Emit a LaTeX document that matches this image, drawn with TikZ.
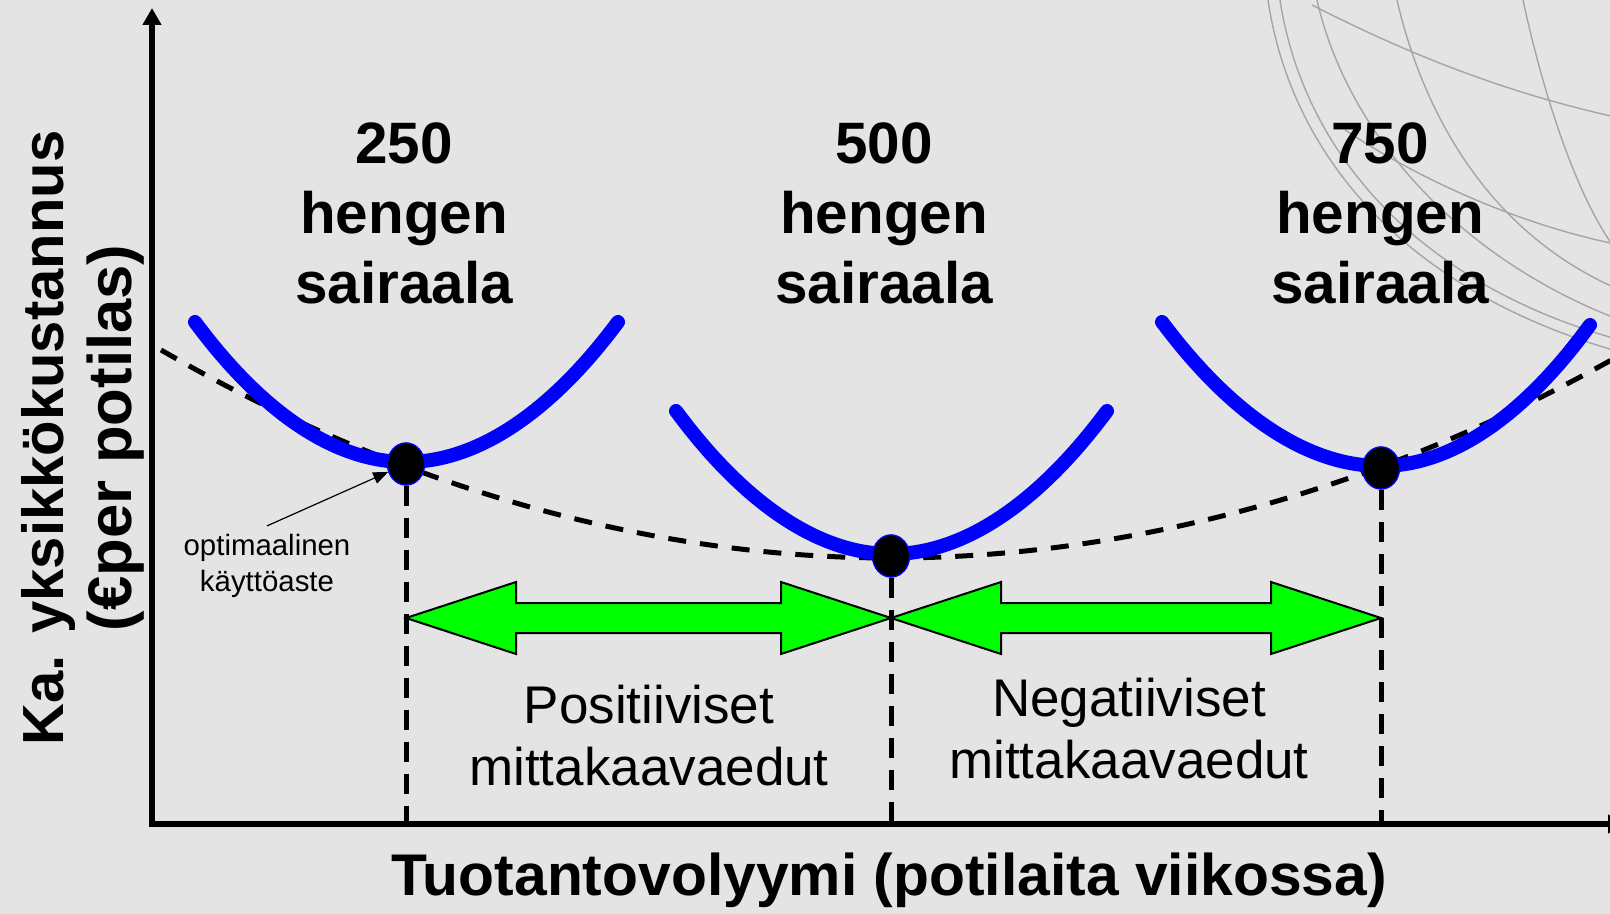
\documentclass[tikz,border=0pt]{standalone}
\usepackage{fontspec}
\setmainfont{Liberation Sans}
\usetikzlibrary{arrows.meta,calc,shapes.geometric}

\definecolor{bgray}{RGB}{228,228,228}
\definecolor{curveblue}{RGB}{0,0,255}
\definecolor{arrowgreen}{RGB}{0,255,0}
\definecolor{globegray}{RGB}{165,165,165}

\tikzset{
  axis/.style={line width=3pt},
  costcurve/.style={curveblue,line width=7pt,line cap=round},
  envelope/.style={line width=2.5pt,dash pattern=on 9pt off 7pt},
  guide/.style={line width=2.5pt,dash pattern=on 10pt off 6pt},
  optdot/.style={ellipse,fill=black,draw=curveblue,line width=0.6pt,
    minimum width=18.5pt,minimum height=21pt,inner sep=0pt},
  title/.style={font=\bfseries\fontsize{29.2}{35}\selectfont,align=center,inner sep=0pt},
  effect/.style={font=\fontsize{26.5}{31}\selectfont,align=center,inner sep=0pt},
  greenbar/.style={draw=black,fill=arrowgreen,line width=1pt,line join=miter},
  globe/.style={globegray,line width=0.7pt}
}

% double headed block arrow between two named points
\newcommand\greenarrow[2]{
  \draw[greenbar] (#1) -- ($(#1)+(110,-36)$) -- ($(#1)+(110,-15)$)
    -- ($(#2)+(-110,-15)$) -- ($(#2)+(-110,-36)$) -- (#2)
    -- ($(#2)+(-110,36)$) -- ($(#2)+(-110,15)$)
    -- ($(#1)+(110,15)$) -- ($(#1)+(110,36)$) -- cycle;
}

\begin{document}
\begin{tikzpicture}[x=0.5pt,y=-0.5pt]
  \clip (0,0) rectangle (1610,914);
  \fill[bgray] (0,0) rectangle (1610,914);

  % globe wires
  \draw[globe] (1268,0) .. controls (1290,150) and (1400,290) .. (1620,352);
  \draw[globe] (1280,0) .. controls (1302,145) and (1410,282) .. (1620,340);
  \draw[globe] (1317,0) .. controls (1345,125) and (1450,255) .. (1620,320);
  \draw[globe] (1397,0) .. controls (1420,100) and (1480,230) .. (1620,290);
  \draw[globe] (1523,0) .. controls (1540,80) and (1575,200) .. (1620,255);
  \draw[globe] (1312,5) .. controls (1400,50) and (1500,92) .. (1620,118);
  \draw[globe] (1345,130) .. controls (1420,180) and (1520,225) .. (1620,245);

  \coordinate (o) at (152,824);
  \coordinate (arr) at (152,618);

  % long run cost envelope
  \draw[envelope] (161,350) parabola bend (891,558) (1615,358);

  \node[optdot] (d1) at (406,464) {};
  \node[optdot] (d2) at (891,556) {};
  \node[optdot] (d3) at (1381,468) {};

  \coordinate (p1) at (d1 |- arr);
  \coordinate (p2) at (d2 |- arr);
  \coordinate (p3) at (d3 |- arr);
  \greenarrow{p1}{p2}
  \greenarrow{p2}{p3}

  \draw[guide] (d1.south) -- (d1 |- o);
  \draw[guide] (d2.south) -- (d2 |- o);
  \draw[guide] (d3.south) -- (d3 |- o);

  % short run cost curves
  \draw[costcurve] (195,322) parabola bend (406,462) (618,322);
  \draw[costcurve] (676,411) parabola bend (891,554) (1107,411);
  \draw[costcurve] (1162,322) parabola bend (1381,466) (1590,325);

  \node[optdot] at (d1) {};
  \node[optdot] at (d2) {};
  \node[optdot] at (d3) {};

  \node[title] (h250) at (404,213) {250\\hengen\\sairaala};
  \node[title] (h500) at (884,213) {500\\hengen\\sairaala};
  \node[title] (h750) at (1380,213) {750\\hengen\\sairaala};

  \node[effect] (pos) at (649,736) {Positiiviset\\mittakaavaedut};
  \node[effect] (neg) at (1129,729) {Negatiiviset\\mittakaavaedut};

  \node[font=\fontsize{14.7}{18}\selectfont,align=center,inner sep=0pt] (opt)
    at (267,566) {optimaalinen\\käyttöaste};
  \coordinate (optfrom) at ($(opt.north)+(0,-8)$);
  \draw[line width=0.6pt,-{Triangle[length=7.5pt,width=6pt]}] (optfrom) -- (d1);

  % axes
  \draw[axis,-{Triangle[length=8.5pt,width=9pt]}] (152,827) -- (152,8);
  \draw[axis,-{Triangle[length=8.5pt,width=9pt]}] (149,824) -- (1625,824);

  \node[font=\bfseries\fontsize{29}{34}\selectfont,align=center,inner sep=0pt,rotate=90]
    (ylab) at (83,438) {Ka. yksikkökustannus\\{\fontsize{30.8}{34}\selectfont(€per potilas)}};
  \node[font=\bfseries\fontsize{29.4}{34}\selectfont,anchor=base,inner sep=0pt]
    (xlab) at (889,895) {Tuotantovolyymi (potilaita viikossa)};
\end{tikzpicture}
\end{document}
